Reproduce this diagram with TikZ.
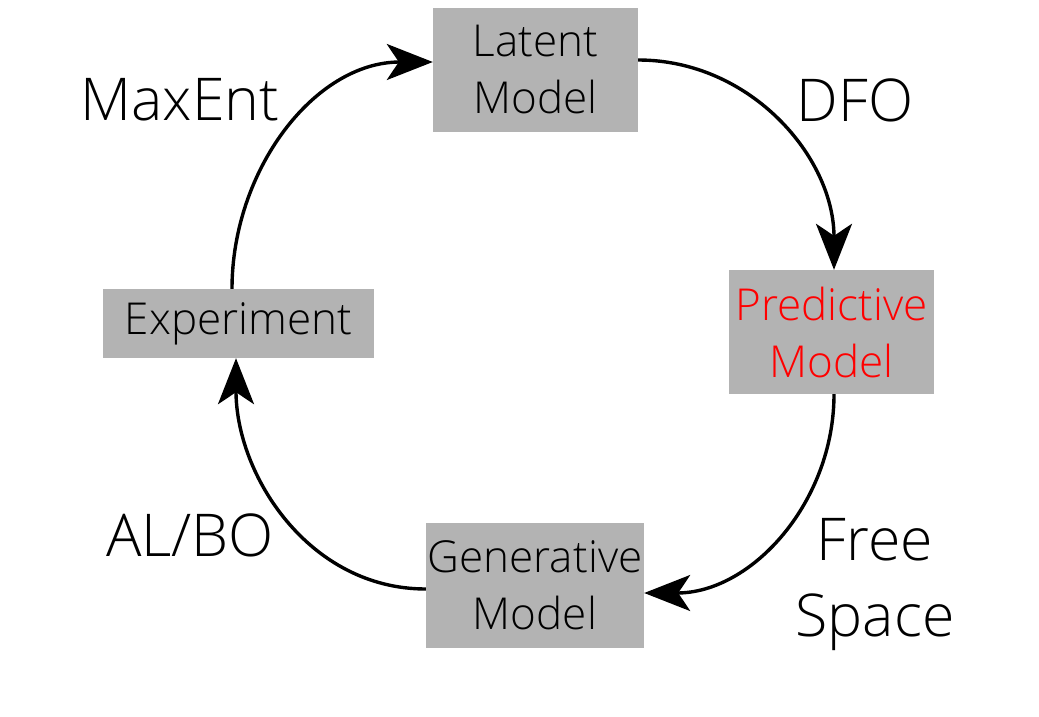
\documentclass[tikz,border=0pt]{standalone}
\usepackage{fontspec}
\setmainfont{Open Sans}[UprightFont=* Light]
\usetikzlibrary{arrows.meta}
\definecolor{boxgray}{RGB}{179,179,179}
\begin{document}
\begin{tikzpicture}[x=1pt,y=-1pt,
  box/.style={fill=boxgray, draw=none, inner sep=0pt, align=center,
    font=\fontsize{44}{57}\selectfont},
  lbl/.style={align=center, font=\fontsize{59}{76}\selectfont},
  arr/.style={line width=3.4pt, -{Stealth[length=46pt,width=36pt,inset=12pt]}}]
\useasboundingbox (0,0) rectangle (1039,717);
\node[box, minimum width=205pt, minimum height=124pt] (lat) at (535.5,70) {Latent\\Model};
\node[box, minimum width=205pt, minimum height=124pt, text=red] (pred) at (831.5,332) {Predictive\\Model};
\node[box, minimum width=218pt, minimum height=125pt] (gen) at (535,585.5) {Generative\\Model};
\node[box, minimum width=271pt, minimum height=69pt] (exp) at (238.5,323.5) {Experiment};
\node[lbl] (maxent) at (180,100) {MaxEnt};
\node[lbl] (dfo) at (855,100) {DFO};
\node[lbl] (albo) at (190,535) {AL/BO};
\node[lbl] (free) at (875,585) {Free\\Space};
\draw[arr] (exp.north -| 232,0) to[out=90,in=180] (lat.west |- 0,62);
\draw[arr] (lat.east |- 0,60) to[out=0,in=90] (pred.north -| 834,0);
\draw[arr] (pred.south -| 834,0) to[out=-90,in=0] (gen.east |- 0,593);
\draw[arr] (gen.west |- 0,589) to[out=180,in=-90] (exp.south -| 236,0);
\end{tikzpicture}
\end{document}
